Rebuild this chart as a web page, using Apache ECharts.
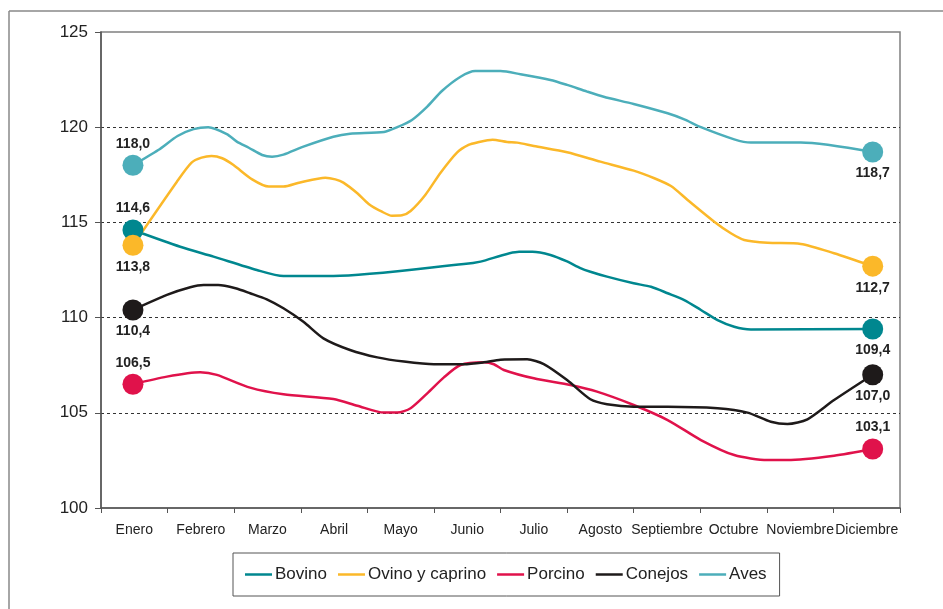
<!DOCTYPE html>
<html>
<head>
<meta charset="utf-8">
<script src="https://cdn.jsdelivr.net/npm/echarts@6/dist/echarts.min.js"></script>
<style>html,body{margin:0;padding:0;background:#fff;}#c{width:943px;height:609px;}</style>
</head>
<body>
<div id="c"></div>
<script>
var months = ['Enero','Febrero','Marzo','Abril','Mayo','Junio','Julio','Agosto','Septiembre','Octubre','Noviembre','Diciembre'];
var yTicks = [100, 105, 110, 115, 120, 125];

// positions along the year (in months, 0..12) and values
var bovinoX = [0.48,1.19,1.69,2.34,2.74,3.49,5.45,5.7,6.28,6.48,6.75,7.0,7.2,7.35,7.6,8.0,8.26,8.51,8.76,9.01,9.26,9.51,9.76,11.59];
var bovinoY = [114.6,113.72,113.2,112.5,112.18,112.18,112.81,112.94,113.46,113.46,113.29,112.95,112.6,112.41,112.15,111.8,111.62,111.28,110.92,110.4,109.87,109.52,109.38,109.4];

var ovinoX = [0.48,1.14,1.36,1.51,1.66,1.82,1.99,2.27,2.52,2.74,2.99,3.37,3.52,3.64,3.85,4.02,4.22,4.37,4.52,4.65,4.87,5.1,5.35,5.52,5.65,5.88,6.1,6.25,6.5,7.0,7.5,8.0,8.31,8.56,8.81,9.21,9.46,9.66,10.01,10.51,11.01,11.59];
var ovinoY = [113.8,117.14,118.14,118.4,118.49,118.37,118.01,117.26,116.88,116.88,117.1,117.35,117.26,117.09,116.53,115.97,115.56,115.35,115.37,115.6,116.44,117.61,118.68,119.07,119.2,119.34,119.22,119.19,119.01,118.68,118.19,117.72,117.32,116.91,116.18,115.04,114.43,114.08,113.93,113.87,113.38,112.7];

var porcinoX = [0.48,0.99,1.49,1.74,2.24,2.74,3.49,3.85,4.25,4.45,4.65,4.9,5.15,5.4,5.75,5.9,6.05,6.5,7.05,7.45,8.0,8.51,9.01,9.51,10.01,10.31,11.01,11.59];
var porcinoY = [106.5,106.9,107.13,106.99,106.32,105.97,105.72,105.37,105.01,105.01,105.24,106.02,106.86,107.51,107.65,107.55,107.25,106.81,106.46,106.11,105.41,104.62,103.57,102.78,102.52,102.52,102.75,103.1];

var conejosX = [0.48,0.99,1.34,1.54,1.76,2.02,2.24,2.49,2.74,3.04,3.34,3.74,4.15,4.55,5.0,5.45,5.75,6.0,6.4,6.65,7.0,7.35,7.6,8.0,8.51,9.26,9.71,10.06,10.31,10.61,11.01,11.59];
var conejosY = [110.4,111.19,111.59,111.71,111.71,111.54,111.28,110.96,110.49,109.78,108.91,108.3,107.91,107.69,107.55,107.55,107.65,107.79,107.81,107.56,106.72,105.71,105.45,105.32,105.32,105.24,105.01,104.53,104.41,104.66,105.67,107.0];

var avesX = [0.48,0.86,1.15,1.39,1.61,1.89,2.04,2.22,2.42,2.57,2.74,3.04,3.49,3.74,4.25,4.45,4.67,4.9,5.12,5.4,5.62,6.0,6.3,6.75,7.0,7.3,7.55,8.0,8.51,8.76,9.01,9.51,9.76,10.51,11.59];
var avesY = [118.0,118.8,119.54,119.9,120.0,119.64,119.24,118.92,118.54,118.45,118.56,118.98,119.5,119.66,119.75,120.0,120.38,121.08,121.9,122.65,122.95,122.95,122.78,122.48,122.22,121.87,121.6,121.22,120.73,120.41,120.0,119.36,119.19,119.19,118.7];

var FONT = '"Liberation Sans", Arial, sans-serif';

function buildData(xs, ys, startPos, endPos) {
  return xs.map(function (x, i) {
    var item = { value: [x, ys[i]] };
    if (i === 0 || i === xs.length - 1) {
      item.symbol = 'circle';
      item.symbolSize = 21;
      item.label = {
        show: true,
        position: i === 0 ? startPos : endPos,
        distance: 4,
        fontFamily: FONT,
        fontWeight: 'bold',
        fontSize: 14,
        color: '#222',
        formatter: function (p) { return p.value[1].toFixed(1).replace('.', ','); }
      };
    }
    return item;
  });
}

function mkSeries(name, color, xs, ys, startPos, endPos) {
  return {
    name: name,
    type: 'line',
    xAxisIndex: 1,
    smooth: 0.25,
    symbol: 'none',
    showSymbol: true,
    lineStyle: { color: color, width: 2.5 },
    itemStyle: { color: color },
    emphasis: { disabled: true },
    animation: false,
    data: buildData(xs, ys, startPos, endPos)
  };
}

var chart = echarts.init(document.getElementById('c'), null, { renderer: 'canvas' });
chart.setOption({
  backgroundColor: '#fff',
  animation: false,
  textStyle: { fontFamily: FONT },
  graphic: [
    { type: 'line', shape: { x1: 9, y1: 11, x2: 943, y2: 11 }, style: { stroke: '#888', lineWidth: 1.5 }, silent: true },
    { type: 'line', shape: { x1: 9, y1: 11, x2: 9, y2: 609 }, style: { stroke: '#888', lineWidth: 1.5 }, silent: true }
  ],
  grid: { left: 101, top: 32, right: 43, bottom: 101, show: true, borderColor: '#808080', borderWidth: 1.5 },
  legend: {
    left: 233, top: 553,
    orient: 'horizontal',
    icon: 'rect',
    itemWidth: 27, itemHeight: 2.5, itemGap: 11,
    padding: [13, 13, 13, 12],
    borderColor: '#555', borderWidth: 1,
    textStyle: { fontFamily: FONT, fontSize: 17, color: '#222', padding: [0, 0, 0, -2] },
    data: ['Bovino', 'Ovino y caprino', 'Porcino', 'Conejos', 'Aves']
  },
  xAxis: [
    {
      type: 'category', data: months, boundaryGap: true,
      axisLine: { lineStyle: { color: '#555', width: 1.5 } },
      axisTick: { show: true, length: 5, lineStyle: { color: '#555' } },
      axisLabel: { interval: 0, fontFamily: FONT, fontSize: 14, color: '#222', margin: 15 },
      splitLine: { show: false }
    },
    { type: 'value', min: 0, max: 12, show: false, splitLine: { show: false } }
  ],
  yAxis: {
    type: 'value', min: yTicks[0], max: yTicks[yTicks.length - 1], interval: 5,
    axisLine: { show: true, lineStyle: { color: '#555', width: 1.5 } },
    axisTick: { show: true, length: 6, lineStyle: { color: '#555' } },
    axisLabel: { fontFamily: FONT, fontSize: 17, color: '#222', margin: 13 },
    splitLine: { show: true, showMinLine: false, showMaxLine: false, lineStyle: { color: '#333', width: 1, type: [3, 3] } }
  },
  series: [
    mkSeries('Bovino', '#00878F', bovinoX, bovinoY, 'top', 'bottom'),
    mkSeries('Ovino y caprino', '#FBB829', ovinoX, ovinoY, 'bottom', 'bottom'),
    mkSeries('Porcino', '#E0124B', porcinoX, porcinoY, 'top', 'top'),
    mkSeries('Conejos', '#1E1A1A', conejosX, conejosY, 'bottom', 'bottom'),
    mkSeries('Aves', '#4CAEBA', avesX, avesY, 'top', 'bottom')
  ]
});
</script>
</body>
</html>
